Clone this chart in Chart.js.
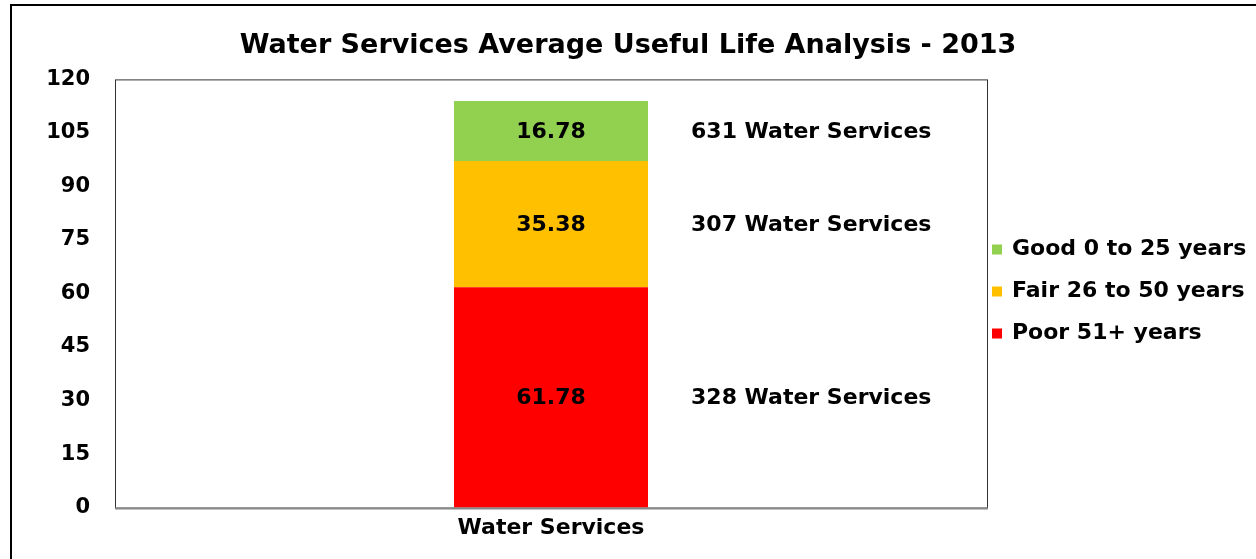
<!DOCTYPE html>
<html>
<head>
<meta charset="utf-8">
<script src="https://cdn.jsdelivr.net/npm/chart.js@4.4.0/dist/chart.umd.min.js"></script>
<style>
  html, body { margin: 0; padding: 0; background: #fff; overflow: hidden; }
  #wrap { position: relative; width: 1256px; height: 559px; }
  #frame { position: absolute; left: 10px; top: 4px; width: 1260px; height: 570px; border: 2px solid #000; box-sizing: border-box; pointer-events: none; }
</style>
</head>
<body>
<div id="wrap">
  <canvas id="chart" width="1256" height="559"></canvas>
  <div id="frame"></div>
</div>
<script>
// data
const categories = ['Water Services'];
const seriesNames = ['Poor 51+ years', 'Fair 26 to 50 years', 'Good 0 to 25 years'];
const seriesColors = ['#FF0000', '#FFC000', '#92D050'];
const poorValues = [61.78];
const fairValues = [35.38];
const goodValues = [16.78];
const countLabels = ['328 Water Services', '307 Water Services', '631 Water Services'];
const yTicks = [0, 15, 30, 45, 60, 75, 90, 105, 120];

const FONT = '"DejaVu Sans", "Liberation Sans", sans-serif';

// valeurs dans les barres + libellés "xxx Water Services"
const barText = {
  id: 'barText',
  afterDatasetsDraw(chart) {
    const ctx = chart.ctx;
    ctx.save();
    ctx.font = 'bold 22px ' + FONT;
    ctx.fillStyle = '#000';
    ctx.textBaseline = 'middle';
    chart.data.datasets.forEach((ds, i) => {
      const meta = chart.getDatasetMeta(i);
      meta.data.forEach((bar, j) => {
        const mid = (bar.y + bar.base) / 2 + 1;
        ctx.textAlign = 'center';
        ctx.fillText(ds.data[j].toFixed(2), bar.x, mid);
        ctx.textAlign = 'left';
        ctx.fillText(countLabels[i], bar.x + bar.width / 2 + 43, mid);
      });
    });
    ctx.restore();
  }
};

// cadre de la zone de tracé
const plotBorder = {
  id: 'plotBorder',
  beforeDatasetsDraw(chart) {
    const a = chart.chartArea;
    const ctx = chart.ctx;
    ctx.save();
    ctx.strokeStyle = '#333';
    ctx.lineWidth = 1;
    ctx.strokeRect(a.left + 0.5, a.top + 0.5, a.right - a.left, a.bottom - a.top);
    ctx.strokeStyle = '#888';
    ctx.lineWidth = 2;
    ctx.beginPath();
    ctx.moveTo(a.left, a.bottom + 1);
    ctx.lineTo(a.right + 1, a.bottom + 1);
    ctx.stroke();
    ctx.restore();
  }
};

// légende à droite (ordre inversé, comme Excel)
const sideLegend = {
  id: 'sideLegend',
  afterDraw(chart) {
    const a = chart.chartArea;
    const ctx = chart.ctx;
    const items = chart.data.datasets.slice().reverse();
    const step = 42;
    const cy = (a.top + a.bottom) / 2 - 2;
    const y0 = cy - step * (items.length - 1) / 2;
    ctx.save();
    ctx.font = 'bold 22px ' + FONT;
    ctx.textBaseline = 'middle';
    ctx.textAlign = 'left';
    items.forEach((ds, k) => {
      const y = y0 + k * step;
      ctx.fillStyle = ds.backgroundColor;
      ctx.fillRect(a.right + 5, y - 5, 10, 10);
      ctx.fillStyle = '#000';
      ctx.fillText(ds.label, a.right + 25, y);
    });
    ctx.restore();
  }
};

const ctx = document.getElementById('chart');
new Chart(ctx, {
  type: 'bar',
  data: {
    labels: categories,
    datasets: [
      { label: seriesNames[0], data: poorValues, backgroundColor: seriesColors[0] },
      { label: seriesNames[1], data: fairValues, backgroundColor: seriesColors[1] },
      { label: seriesNames[2], data: goodValues, backgroundColor: seriesColors[2] }
    ]
  },
  options: {
    responsive: false,
    animation: false,
    events: [],
    layout: { padding: { left: 0, right: 0, top: 0, bottom: 11 } },
    datasets: { bar: { categoryPercentage: 1, barPercentage: 0.2225 } },
    scales: {
      x: {
        stacked: true,
        grid: { display: false, drawTicks: false },
        border: { display: false },
        ticks: { color: '#000', padding: 7, font: { family: FONT, size: 22, weight: 'bold' } }
      },
      y: {
        stacked: true,
        min: 0,
        max: 120,
        afterBuildTicks(scale) { scale.ticks = yTicks.map(v => ({ value: v })); },
        afterFit(scale) { scale.width = 115; },
        grid: { display: false, drawTicks: false },
        border: { display: false },
        ticks: { color: '#000', padding: 25, font: { family: FONT, size: 21, weight: 'bold' } }
      },
      // axe vide à droite : réserve la place de la légende
      yLegend: {
        position: 'right',
        min: 0,
        max: 120,
        afterFit(scale) { scale.width = 269; },
        grid: { display: false, drawTicks: false },
        border: { display: false },
        ticks: { display: false }
      }
    },
    plugins: {
      title: {
        display: true,
        text: 'Water Services Average Useful Life Analysis - 2013',
        color: '#000',
        font: { family: FONT, size: 27, weight: 'bold' },
        padding: { top: 30, bottom: 17 }
      },
      legend: { display: false },
      tooltip: { enabled: false }
    }
  },
  plugins: [barText, plotBorder, sideLegend]
});
</script>
</body>
</html>
